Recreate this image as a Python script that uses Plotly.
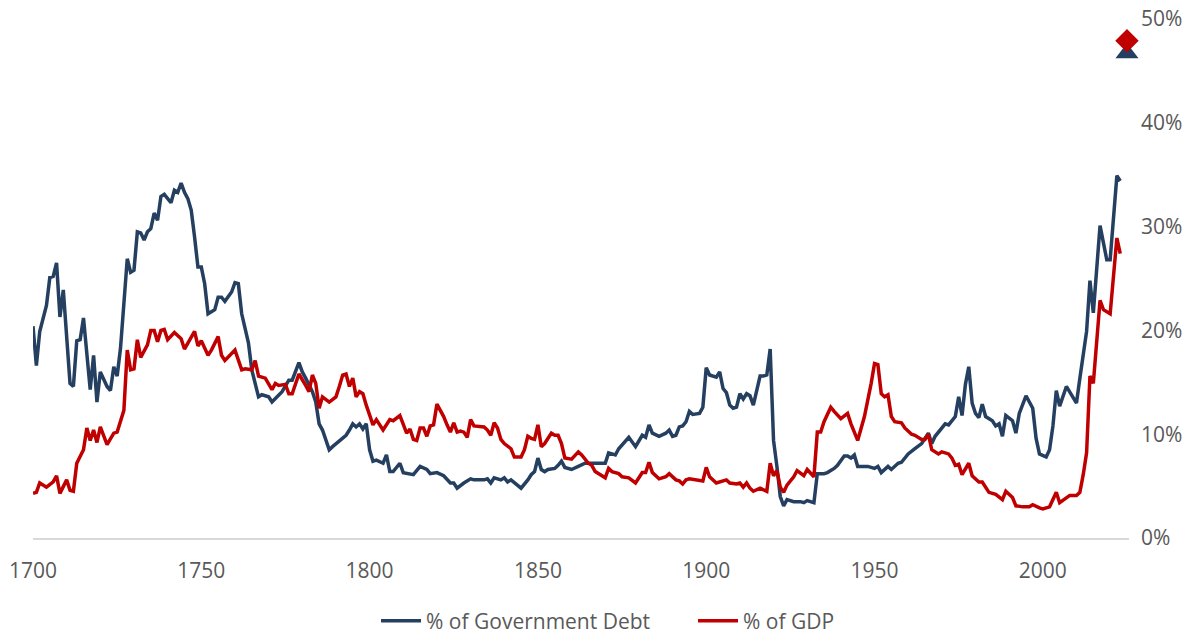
import plotly.graph_objects as go

# ---- Data ----
debt_years = [1700, 1701, 1702, 1704, 1705, 1706, 1707, 1708, 1709, 1711, 1712, 1713, 1714, 1715,
              1717, 1718, 1719, 1720, 1722, 1723, 1724, 1725, 1726, 1728, 1729, 1730, 1731, 1732,
              1733, 1734, 1735, 1736, 1737, 1738, 1739, 1741, 1742, 1743, 1744, 1745, 1746, 1747,
              1748, 1749, 1750, 1751, 1752, 1754, 1755, 1756, 1757, 1759, 1760, 1761, 1762, 1764,
              1765, 1767, 1768, 1770, 1771, 1773, 1774, 1776, 1777, 1779, 1780, 1781, 1783, 1784,
              1785, 1786, 1788, 1789, 1791, 1793, 1794, 1795, 1796, 1797, 1798, 1799, 1800, 1801,
              1802, 1804, 1805, 1806, 1807, 1809, 1810, 1813, 1815, 1817, 1818, 1820, 1822, 1824,
              1825, 1826, 1828, 1830, 1831, 1834, 1835, 1836, 1837, 1839, 1840, 1841, 1842, 1844,
              1845, 1847, 1848, 1849, 1850, 1851, 1852, 1853, 1855, 1856, 1857, 1858, 1860, 1862,
              1864, 1866, 1868, 1870, 1871, 1873, 1874, 1876, 1877, 1879, 1880, 1881, 1882, 1883,
              1884, 1886, 1888, 1889, 1890, 1891, 1892, 1893, 1894, 1895, 1896, 1898, 1899, 1900,
              1901, 1902, 1903, 1904, 1905, 1906, 1907, 1908, 1909, 1910, 1911, 1912, 1913, 1914,
              1916, 1917, 1918, 1919, 1920, 1921, 1922, 1923, 1924, 1926, 1928, 1929, 1930, 1932,
              1933, 1935, 1936, 1938, 1939, 1941, 1942, 1943, 1944, 1945, 1947, 1948, 1950, 1951,
              1952, 1954, 1955, 1957, 1958, 1960, 1962, 1964, 1966, 1967, 1968, 1971, 1972, 1974,
              1975, 1976, 1977, 1978, 1979, 1980, 1981, 1982, 1983, 1985, 1986, 1987, 1988, 1989,
              1991, 1992, 1993, 1995, 1997, 1998, 1999, 2001, 2002, 2003, 2004, 2005, 2007, 2009,
              2010, 2011, 2013, 2014, 2015, 2017, 2019, 2020, 2022, 2023]
debt_pct = [20.4, 16.6, 19.9, 22.4, 25.1, 25.2, 26.5, 21.3, 23.9, 14.9, 14.6, 19.0, 19.1, 21.2,
            14.3, 17.6, 13.1, 16.0, 14.6, 14.2, 16.5, 15.6, 18.3, 26.9, 25.6, 25.8, 29.5, 29.4,
            28.7, 29.5, 29.8, 31.3, 30.6, 32.9, 33.1, 32.3, 33.5, 33.3, 34.2, 33.3, 32.7, 31.6,
            29.0, 26.1, 26.1, 24.5, 21.6, 22.0, 23.2, 23.2, 22.8, 23.7, 24.6, 24.5, 21.6, 18.8,
            16.2, 13.6, 13.8, 13.6, 13.1, 13.8, 14.1, 15.2, 15.2, 16.9, 16.0, 15.4, 14.1, 13.1,
            11.0, 10.4, 8.5, 8.8, 9.4, 9.9, 10.4, 11.0, 10.7, 11.0, 10.5, 11.0, 8.5, 7.4,
            7.5, 7.2, 8.0, 6.4, 6.4, 7.2, 6.3, 6.1, 6.9, 6.6, 6.2, 6.3, 6.0, 5.3,
            5.3, 4.8, 5.3, 5.7, 5.6, 5.6, 5.7, 5.3, 5.8, 5.6, 5.8, 5.4, 5.6, 5.1,
            4.8, 5.6, 6.1, 6.4, 7.7, 6.6, 6.4, 6.6, 6.7, 7.0, 7.4, 6.8, 6.6, 6.9,
            7.2, 7.2, 7.2, 7.2, 8.2, 8.0, 8.6, 9.3, 9.7, 8.8, 9.3, 9.9, 9.7, 10.9,
            10.1, 9.8, 10.1, 10.4, 9.8, 9.9, 10.7, 10.8, 11.2, 12.2, 11.9, 12.0, 12.6, 16.4,
            15.7, 15.6, 15.5, 16.0, 14.4, 14.0, 12.8, 12.5, 12.6, 13.9, 13.4, 13.9, 13.7, 12.8,
            15.6, 15.6, 15.7, 18.2, 9.4, 6.9, 4.0, 3.1, 3.7, 3.5, 3.5, 3.4, 3.6, 3.4,
            6.2, 6.2, 6.3, 6.7, 7.0, 7.9, 7.9, 7.7, 8.0, 6.9, 6.9, 6.9, 6.7, 6.9,
            6.3, 6.9, 6.6, 7.2, 7.3, 8.1, 8.6, 9.1, 10.1, 9.1, 9.8, 11.0, 10.9, 11.7,
            13.6, 11.8, 14.8, 16.5, 13.0, 12.0, 11.6, 12.9, 11.7, 11.3, 10.8, 11.0, 9.8, 11.8,
            11.3, 10.1, 12.0, 13.7, 12.5, 9.6, 8.1, 7.8, 8.5, 10.8, 14.2, 12.7, 14.6, 13.6,
            13.0, 15.4, 19.9, 24.8, 21.7, 30.1, 26.8, 26.8, 34.9, 34.4]

gdp_years = [1700, 1701, 1702, 1704, 1706, 1707, 1708, 1710, 1711, 1712, 1713, 1715, 1716, 1717,
             1718, 1719, 1720, 1722, 1724, 1725, 1727, 1728, 1729, 1730, 1731, 1732, 1734, 1735,
             1736, 1737, 1738, 1739, 1740, 1742, 1744, 1745, 1748, 1749, 1750, 1752, 1753, 1755,
             1756, 1757, 1760, 1762, 1763, 1765, 1766, 1767, 1769, 1771, 1772, 1773, 1775, 1776,
             1777, 1779, 1781, 1782, 1783, 1784, 1785, 1786, 1788, 1790, 1791, 1792, 1793, 1794,
             1795, 1796, 1797, 1798, 1799, 1801, 1802, 1804, 1806, 1807, 1809, 1810, 1811, 1812,
             1813, 1814, 1815, 1816, 1817, 1818, 1819, 1820, 1822, 1823, 1824, 1825, 1826, 1827,
             1828, 1829, 1830, 1831, 1833, 1834, 1835, 1836, 1837, 1838, 1839, 1840, 1842, 1843,
             1845, 1846, 1847, 1848, 1849, 1850, 1851, 1852, 1854, 1855, 1856, 1857, 1858, 1860,
             1862, 1863, 1865, 1866, 1867, 1868, 1870, 1871, 1872, 1874, 1875, 1877, 1879, 1880,
             1881, 1882, 1883, 1884, 1886, 1888, 1889, 1891, 1892, 1893, 1894, 1895, 1897, 1899,
             1900, 1901, 1903, 1904, 1906, 1907, 1909, 1910, 1911, 1912, 1913, 1914, 1916, 1918,
             1919, 1920, 1921, 1922, 1923, 1924, 1926, 1927, 1928, 1929, 1930, 1932, 1933, 1934,
             1935, 1937, 1938, 1940, 1942, 1943, 1945, 1947, 1949, 1950, 1951, 1952, 1953, 1954,
             1955, 1956, 1958, 1959, 1961, 1962, 1964, 1965, 1966, 1967, 1969, 1970, 1972, 1973,
             1974, 1975, 1976, 1978, 1979, 1981, 1982, 1984, 1986, 1988, 1989, 1991, 1992, 1994,
             1996, 1997, 1999, 2000, 2002, 2004, 2005, 2006, 2008, 2010, 2011, 2012, 2013, 2014,
             2015, 2017, 2018, 2020, 2022, 2023]
gdp_pct = [4.3, 4.4, 5.3, 4.9, 5.4, 6.0, 4.3, 5.6, 4.6, 4.5, 7.2, 8.5, 10.6, 9.4,
           10.4, 9.2, 10.7, 9.0, 10.1, 10.2, 12.3, 18.1, 16.2, 16.3, 19.1, 17.4, 18.6, 20.0,
           20.0, 18.9, 20.0, 20.1, 19.1, 19.8, 19.2, 18.2, 19.9, 18.5, 19.0, 17.6, 18.1, 19.4,
           17.6, 17.1, 18.1, 16.2, 16.3, 16.2, 17.1, 15.6, 15.4, 14.3, 14.9, 14.7, 14.8, 13.9,
           13.9, 15.8, 14.7, 14.1, 15.7, 14.9, 12.5, 13.6, 13.1, 13.6, 14.6, 15.7, 15.8, 14.6,
           15.4, 13.6, 14.1, 13.9, 12.8, 10.9, 11.4, 10.4, 11.4, 11.3, 11.8, 10.9, 10.1, 10.5,
           9.5, 9.4, 10.6, 10.6, 9.8, 10.8, 10.9, 12.9, 11.7, 10.9, 10.2, 11.1, 10.2, 10.3,
           10.2, 9.7, 11.4, 10.8, 10.7, 10.7, 10.4, 9.9, 11.1, 10.6, 9.5, 9.1, 8.6, 7.8,
           7.8, 8.5, 9.8, 9.6, 9.5, 10.9, 8.8, 9.1, 10.1, 9.9, 9.9, 9.1, 7.7, 7.6,
           8.3, 8.0, 7.2, 7.0, 6.4, 6.2, 5.8, 6.7, 6.4, 6.2, 5.9, 5.8, 5.3, 5.8,
           6.3, 6.3, 7.3, 6.3, 5.7, 5.9, 6.2, 5.6, 5.5, 5.2, 5.6, 5.7, 5.6, 5.5,
           6.8, 5.9, 5.3, 5.4, 5.6, 5.3, 5.2, 5.3, 4.9, 5.3, 4.8, 4.5, 4.8, 4.5,
           7.2, 6.0, 6.5, 4.9, 4.4, 5.1, 5.9, 6.5, 6.2, 6.0, 6.6, 5.9, 10.2, 10.2,
           11.2, 12.6, 12.2, 11.5, 12.0, 11.0, 9.4, 11.7, 14.9, 16.8, 16.7, 13.9, 13.6, 13.8,
           11.7, 11.2, 11.1, 10.6, 10.0, 9.9, 9.5, 9.5, 10.0, 8.5, 8.1, 8.3, 8.1, 7.7,
           7.0, 7.1, 6.1, 7.2, 6.0, 5.4, 5.4, 4.4, 4.2, 3.7, 4.5, 3.9, 3.1, 3.0,
           3.0, 3.2, 2.9, 2.8, 3.0, 4.4, 3.4, 3.6, 4.1, 4.1, 4.4, 6.1, 8.2, 15.6,
           14.9, 22.9, 22.0, 21.6, 28.9, 27.4]

# Projected end markers
proj_year = [2025]
proj_debt = [46.7]
proj_gdp = [47.9]

x_ticks = [1700, 1750, 1800, 1850, 1900, 1950, 2000]
y_ticks = [0, 10, 20, 30, 40, 50]

BLUE = "#243F60"
RED = "#C00000"
GREY_TXT = "#595959"
FONT = "Open Sans"

fig = go.Figure()
fig.add_trace(go.Scatter(x=debt_years, y=debt_pct, mode="lines", name="% of Government Debt",
                         line=dict(color=BLUE, width=3.5)))
fig.add_trace(go.Scatter(x=gdp_years, y=gdp_pct, mode="lines", name="% of GDP",
                         line=dict(color=RED, width=3.5)))
fig.add_trace(go.Scatter(x=proj_year, y=proj_debt, mode="markers", showlegend=False,
                         cliponaxis=False,
                         marker=dict(symbol="triangle-up", size=20, color=BLUE)))
fig.add_trace(go.Scatter(x=proj_year, y=proj_gdp, mode="markers", showlegend=False,
                         cliponaxis=False,
                         marker=dict(symbol="diamond", size=18, color=RED)))

# The page body adds an 8px offset, so the figure is sized/margined to compensate.
fig.update_layout(
    width=1191, height=631,
    margin=dict(l=25, r=70, t=11, b=101, autoexpand=False),
    paper_bgcolor="white", plot_bgcolor="white",
    font=dict(family=FONT, size=20, color=GREY_TXT),
    showlegend=True,
    legend=dict(orientation="h", xref="container", x=0.309, xanchor="left",
                yref="container", y=0.0285, yanchor="middle",
                font=dict(family=FONT, size=21, color=GREY_TXT), itemwidth=40,
                entrywidth=262, entrywidthmode="pixels", tracegroupgap=0),
    xaxis=dict(range=[1700, 2025.6], tickmode="array", tickvals=x_ticks,
               ticktext=[str(v) for v in x_ticks], showgrid=False, zeroline=False,
               showline=True, linecolor="#D9D9D9", linewidth=2, ticks="",
               automargin=False, ticklabelstandoff=13, ticklabeloverflow="allow",
               tickfont=dict(size=21, color=GREY_TXT)),
    yaxis=dict(range=[0, 50], side="right", tickmode="array", tickvals=y_ticks,
               ticktext=[f"{v}%" for v in y_ticks], showgrid=False, zeroline=False,
               showline=False, ticks="", ticklabelstandoff=11, automargin=False,
               ticklabeloverflow="allow",
               tickfont=dict(size=21, color=GREY_TXT)),
)

fig.write_html("out.html")
